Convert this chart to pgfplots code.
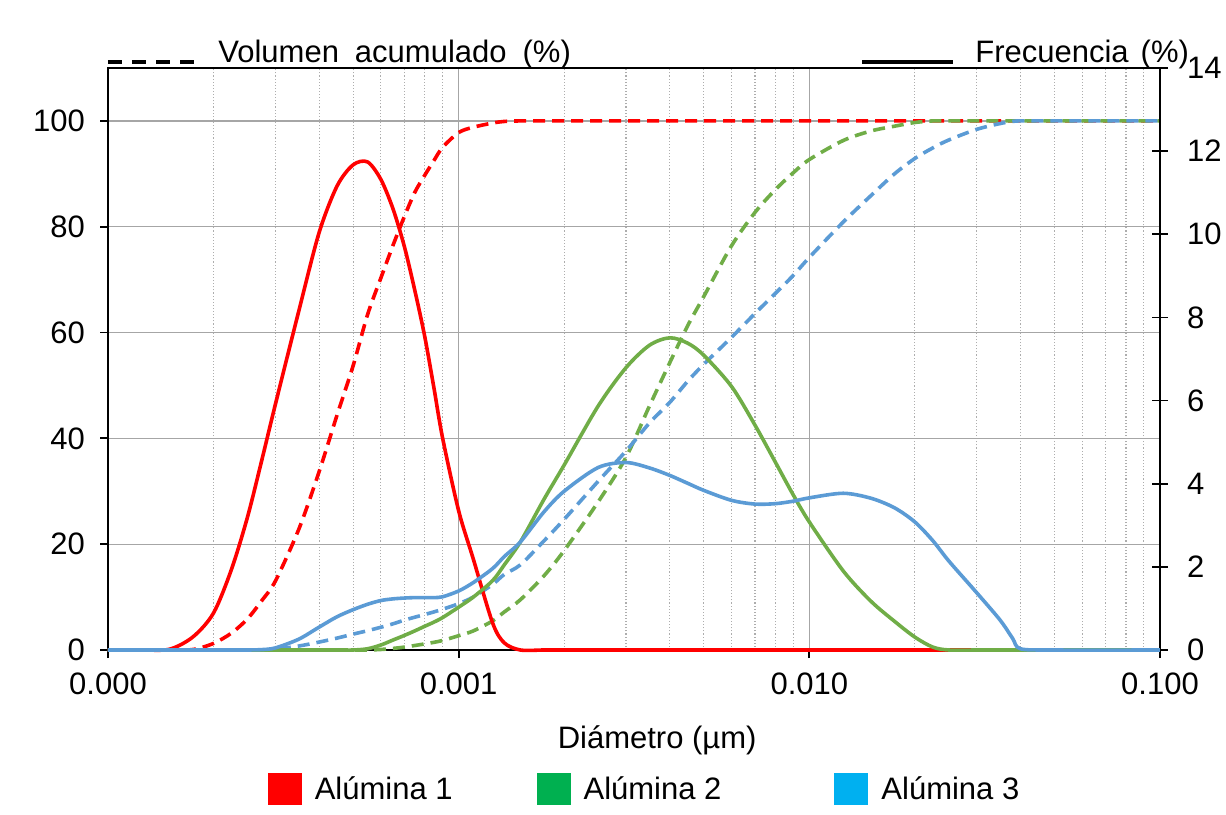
\documentclass[border=0pt]{standalone}
\usepackage{fontspec}
\setmainfont{Liberation Sans}
\usepackage{pgfplots}
\usepackage{pgfplotstable}
\pgfplotsset{compat=1.18}
\definecolor{cRed}{HTML}{FF0000}
\definecolor{cGreen}{HTML}{70AD47}
\definecolor{cBlue}{HTML}{5B9BD5}
\definecolor{lGreen}{HTML}{00B050}
\definecolor{lBlue}{HTML}{00B0F0}
\definecolor{gridmaj}{HTML}{A6A6A6}
\definecolor{gridmin}{HTML}{ADADAD}

% d = diametro, v = volumen acumulado (%), f = frecuencia (%)
\pgfplotstableread{
d        v1     f1     v2     f2     v3     f3
1e-4     0      0      0      0      0      0
1.25e-4  0      0      0      0      0      0
1.5e-4   0      0.02   0      0      0      0
1.75e-4  0.1    0.32   0      0      0      0
2e-4     1.25   0.89   0      0      0      0
2.25e-4  3.2    1.94   0      0      0      0
2.5e-4   5.9    3.2    0      0      0      0
2.75e-4  9.4    4.59   0      0      0      0.01
3e-4     13.0   5.9    0      0      0.15   0.05
3.5e-4   22.8   8.15   0      0      0.75   0.26
4e-4     33.7   10.04  0      0      1.5    0.55
4.5e-4   44.4   11.16  0      0      2.25   0.80
5e-4     53.7   11.67  0      0      3.0    0.97
5.5e-4   63.4   11.74  0      0.03   3.65   1.10
6e-4     70.3   11.32  0.1    0.12   4.3    1.19
6.5e-4   76.5   10.61  0.3    0.24   4.95   1.23
7e-4     81.9   9.71   0.55   0.35   5.65   1.25
7.5e-4   86.5   8.65   0.85   0.46   6.2    1.26
8e-4     89.7   7.55   1.15   0.57   6.7    1.26
8.5e-4   92.5   6.31   1.45   0.67   7.2    1.26
9e-4     95.0   5.1    1.8    0.78   7.7    1.28
1e-3     97.8   3.35   2.7    1.03   8.75   1.42
1.1e-3   98.8   2.2    3.6    1.27   10.0   1.62
1.25e-3  99.6   0.65   5.5    1.67   12.4   1.96
1.35e-3  99.9   0.17   7.2    2.05   14.3   2.25
1.5e-3   100    0      9.5    2.6    16.1   2.6
1.75e-3  100    0      14.0   3.62   20.6   3.32
2e-3     100    0      18.8   4.45   24.7   3.82
2.5e-3   100    0      28.0   5.87   31.9   4.39
3e-3     100    0      36.4   6.79   37.6   4.51
3.5e-3   100    0      46.1   7.33   42.9   4.38
4e-3     100    0      54.3   7.51   46.8   4.2
4.5e-3   100    0      61.3   7.38   50.8   4.01
5e-3     100    0      66.8   7.09   54.0   3.84
6e-3     100    0      76.4   6.34   59.1   3.60
7e-3     100    0      82.7   5.41   63.6   3.51
8e-3     100    0      87.0   4.52   67.4   3.52
9e-3     100    0      90.2   3.73   70.8   3.58
1e-2     100    0      92.7   3.08   74.2   3.66
1.25e-2  100    0      96.3   1.90   80.9   3.77
1.5e-2   100    0      98.1   1.17   85.9   3.65
1.75e-2  100    0      99.0   0.69   90.0   3.42
2e-2     100    0      99.7   0.31   92.9   3.08
2.25e-2  100    0      100    0.07   94.9   2.63
2.5e-2   100    0      100    0      96.4   2.14
3e-2     100    0      100    0      98.4   1.38
3.5e-2   100    0      100    0      99.5   0.72
3.8e-2   100    0      100    0      99.9   0.28
4e-2     100    0      100    0      100    0.03
5e-2     100    0      100    0      100    0
0.1      100    0      100    0      100    0
}\datatable

\begin{document}
\begin{tikzpicture}[font=\fontsize{15.5}{18}\selectfont]
\path[use as bounding box] (-54pt,-82pt) rectangle (559pt,325pt);
\begin{axis}[
  at={(0pt,0pt)}, anchor=south west, scale only axis,
  width=526pt, height=291pt,
  xmode=log, xmin=1e-4, xmax=0.1, ymin=0, ymax=110,
  xtick={1e-4,1e-3,1e-2,1e-1},
  xticklabels={0.000,0.001,0.010,0.100},
  minor xtick={2e-4,3e-4,4e-4,5e-4,6e-4,7e-4,8e-4,9e-4,
               2e-3,3e-3,4e-3,5e-3,6e-3,7e-3,8e-3,9e-3,
               2e-2,3e-2,4e-2,5e-2,6e-2,7e-2,8e-2,9e-2},
  ytick={0,20,40,60,80,100},
  xmajorgrids, ymajorgrids, xminorgrids,
  major grid style={draw=gridmaj, line width=0.6pt},
  minor grid style={draw=gridmin, line width=0.55pt, densely dotted},
  axis line style={line width=0.9pt},
  tick style={black, line width=0.9pt},
  major tick length=4pt, minor tick length=0pt,
  tick align=outside, xtick pos=bottom, ytick pos=left,
  /pgf/number format/assume math mode=true,
  tick label style={font=\fontsize{15.5}{18}\selectfont},
  yticklabel style={xshift=-4pt},
  xticklabel style={yshift=-4pt},
  xlabel={Diámetro (µm)},
  xlabel style={at={(axis description cs:0.522,-0.155)}, anchor=center},
  clip=false,
]
\addplot[cRed, line width=1.8pt, dash pattern=on 6pt off 3.5pt, smooth] table[x=d,y=v1] {\datatable};
\addplot[cGreen, line width=1.8pt, dash pattern=on 6pt off 3.5pt, smooth] table[x=d,y=v2] {\datatable};
\addplot[cBlue, line width=1.8pt, dash pattern=on 6pt off 3.5pt, smooth] table[x=d,y=v3] {\datatable};
\end{axis}
\begin{axis}[
  at={(0pt,0pt)}, anchor=south west, scale only axis,
  width=526pt, height=291pt,
  xmode=log, xmin=1e-4, xmax=0.1, ymin=0, ymax=14,
  axis y line*=right, axis x line=none,
  ytick={0,2,4,6,8,10,12,14},
  axis line style={line width=0.9pt},
  tick style={black, line width=0.9pt},
  major tick length=8pt, tick align=center,
  /pgf/number format/assume math mode=true,
  tick label style={font=\fontsize{15.5}{18}\selectfont},
  yticklabel style={xshift=6pt},
  clip=false,
  legend style={draw=none, fill=none, at={(axis description cs:0.511,-0.239)},
    anchor=center, legend columns=3,
    font=\fontsize{15.5}{18}\selectfont,
    /tikz/column 2/.append style={column sep=40pt},
    /tikz/column 4/.append style={column sep=54.5pt}},
  legend cell align=left,
]
\addplot[forget plot, cRed, line width=1.8pt, smooth] table[x=d,y=f1] {\datatable};
\addplot[forget plot, cGreen, line width=1.8pt, smooth] table[x=d,y=f2] {\datatable};
\addplot[forget plot, cBlue, line width=1.8pt, smooth] table[x=d,y=f3] {\datatable};
\addlegendimage{legend image code/.code={\fill[cRed, draw=none] (0pt,-8pt) rectangle (17pt,8pt); \path[draw=none] (0pt,0pt) -- (21.5pt,0pt);}}
\addlegendentry{Alúmina 1}
\addlegendimage{legend image code/.code={\fill[lGreen, draw=none] (0pt,-8pt) rectangle (17pt,8pt); \path[draw=none] (0pt,0pt) -- (21.5pt,0pt);}}
\addlegendentry{Alúmina 2}
\addlegendimage{legend image code/.code={\fill[lBlue, draw=none] (0pt,-8pt) rectangle (17pt,8pt); \path[draw=none] (0pt,0pt) -- (21.5pt,0pt);}}
\addlegendentry{Alúmina 3}
\end{axis}
\draw[line width=2pt, dash pattern=on 7pt off 5pt] (0pt,294pt) -- (47pt,294pt);
\node[anchor=base west, inner sep=0pt] at (55pt,293.5pt) {Volumen\hspace{8pt}acumulado\hspace{8pt}(\%)};
\draw[line width=2pt] (377pt,294pt) -- (422.5pt,294pt);
\node[anchor=base west, inner sep=0pt] at (433.5pt,293.5pt) {Frecuencia\hspace{6pt}(\%)};
\end{tikzpicture}
\end{document}
